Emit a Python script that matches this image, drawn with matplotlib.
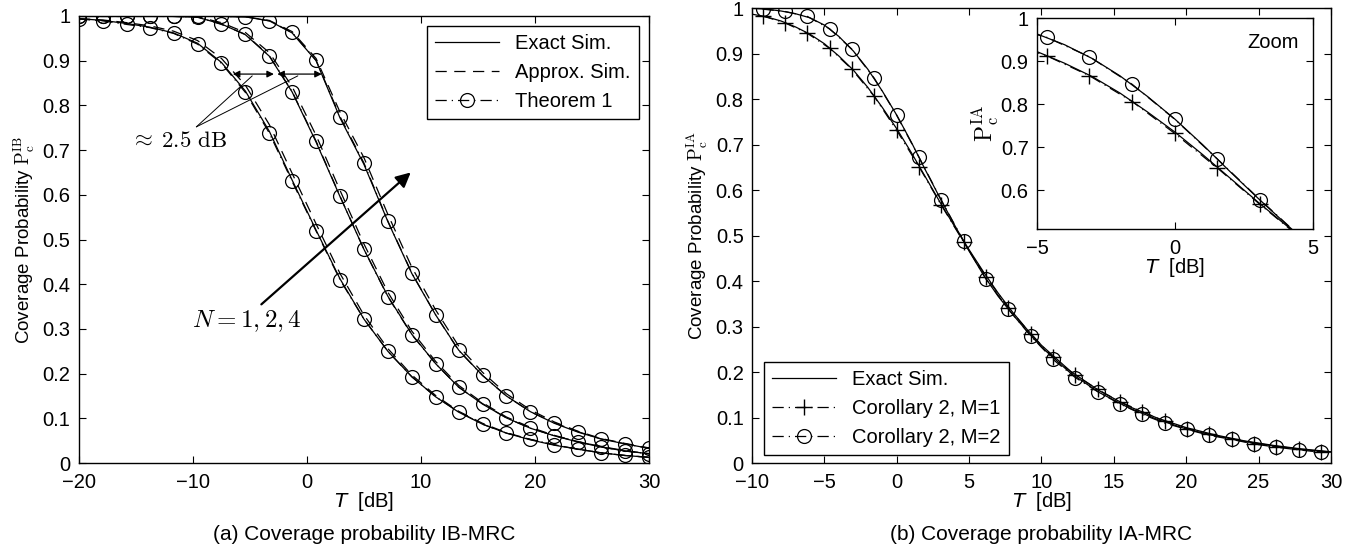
import numpy as np
import matplotlib
matplotlib.use("Agg")
import matplotlib.pyplot as plt
from matplotlib.ticker import FormatStrFormatter

plt.rcParams['font.family'] = ['Liberation Sans', 'DejaVu Sans']
plt.rcParams['mathtext.fontset'] = 'cm'
plt.rcParams['font.size'] = 14
plt.rcParams['axes.linewidth'] = 1.0

# ---- (a) IB-MRC data, N = 1, 2, 4 ----
T_ib = [-20.0, -17.9, -15.8, -13.8, -11.7, -9.6, -7.5, -5.4, -3.3, -1.3, 0.8, 2.9, 5.0,
        7.1, 9.2, 11.3, 13.3, 15.4, 17.5, 19.6, 21.7, 23.8, 25.8, 27.9, 30.0]

thm_n1 = [0.993, 0.989, 0.981, 0.974, 0.961, 0.937, 0.894, 0.829, 0.738, 0.630, 0.519, 0.410, 0.322,
          0.250, 0.193, 0.148, 0.115, 0.087, 0.067, 0.053, 0.041, 0.031, 0.023, 0.017, 0.013]
thm_n2 = [0.999, 0.999, 0.999, 0.999, 0.999, 0.998, 0.981, 0.959, 0.911, 0.831, 0.720, 0.597, 0.478,
          0.372, 0.287, 0.222, 0.170, 0.133, 0.101, 0.078, 0.061, 0.048, 0.036, 0.027, 0.021]
thm_n4 = [0.999, 0.999, 0.999, 0.999, 0.999, 0.999, 0.999, 0.998, 0.989, 0.963, 0.901, 0.775, 0.671,
          0.541, 0.425, 0.331, 0.252, 0.196, 0.150, 0.115, 0.090, 0.070, 0.054, 0.043, 0.033]

exact_n1 = [0.994, 0.990, 0.983, 0.975, 0.962, 0.939, 0.896, 0.832, 0.742, 0.633, 0.521, 0.412, 0.322,
            0.250, 0.193, 0.148, 0.114, 0.087, 0.067, 0.052, 0.040, 0.031, 0.023, 0.017, 0.013]
exact_n2 = [0.999, 0.999, 0.999, 0.999, 0.999, 0.997, 0.982, 0.958, 0.910, 0.830, 0.718, 0.596, 0.478,
            0.373, 0.288, 0.222, 0.170, 0.132, 0.101, 0.078, 0.061, 0.047, 0.036, 0.027, 0.021]
exact_n4 = [0.999, 0.999, 0.999, 0.999, 0.999, 0.999, 0.999, 0.998, 0.989, 0.962, 0.900, 0.772, 0.668,
            0.540, 0.424, 0.331, 0.253, 0.196, 0.150, 0.115, 0.089, 0.069, 0.054, 0.043, 0.033]

approx_n1 = [0.994, 0.991, 0.985, 0.978, 0.966, 0.945, 0.905, 0.845, 0.757, 0.648, 0.535, 0.424, 0.331,
             0.256, 0.197, 0.151, 0.116, 0.089, 0.068, 0.053, 0.041, 0.031, 0.023, 0.017, 0.013]
approx_n2 = [0.999, 0.999, 0.999, 0.999, 0.999, 0.998, 0.985, 0.963, 0.918, 0.842, 0.733, 0.610, 0.490,
             0.382, 0.295, 0.227, 0.174, 0.135, 0.103, 0.080, 0.062, 0.048, 0.037, 0.028, 0.021]
approx_n4 = [0.999, 0.999, 0.999, 0.999, 0.999, 0.999, 0.999, 0.998, 0.990, 0.965, 0.905, 0.785, 0.683,
             0.556, 0.438, 0.342, 0.262, 0.203, 0.155, 0.119, 0.092, 0.071, 0.055, 0.044, 0.034]

# ---- (b) IA-MRC data ----
T_ia = [-9.27, -7.73, -6.18, -4.64, -3.10, -1.55, -0.01, 1.53, 3.08, 4.62, 6.16, 7.70, 9.25,
        10.79, 12.34, 13.88, 15.42, 16.97, 18.51, 20.05, 21.60, 23.14, 24.68, 26.23, 27.77, 29.31]
cor_m1 = [0.983, 0.968, 0.945, 0.912, 0.866, 0.806, 0.732, 0.652, 0.567, 0.486, 0.410, 0.342, 0.284,
          0.233, 0.193, 0.162, 0.135, 0.113, 0.092, 0.076, 0.063, 0.053, 0.043, 0.036, 0.030, 0.025]
cor_m2 = [0.998, 0.993, 0.982, 0.955, 0.910, 0.846, 0.765, 0.673, 0.578, 0.488, 0.405, 0.339, 0.280,
          0.228, 0.188, 0.157, 0.130, 0.107, 0.088, 0.074, 0.061, 0.052, 0.042, 0.035, 0.029, 0.024]

T_sim = [-10, -9, -8, -7, -6, -5, -4, -3, -2, -1, 0, 1, 2, 3, 4, 5, 6, 7, 8, 9, 10,
         12, 14, 16, 18, 20, 22, 24, 26, 28, 30]
exact_a = [0.987, 0.981, 0.972, 0.959, 0.943, 0.922, 0.895, 0.864, 0.826, 0.782, 0.735, 0.683, 0.628,
           0.573, 0.520, 0.469, 0.420, 0.374, 0.332, 0.294, 0.259, 0.202, 0.159, 0.125, 0.099,
           0.078, 0.062, 0.049, 0.039, 0.031, 0.025]
exact_b = [1.000, 0.998, 0.994, 0.988, 0.979, 0.963, 0.938, 0.906, 0.866, 0.818, 0.765, 0.706, 0.643,
           0.582, 0.523, 0.466, 0.413, 0.367, 0.327, 0.290, 0.255, 0.198, 0.155, 0.122, 0.096,
           0.075, 0.060, 0.048, 0.038, 0.030, 0.024]

lw = 0.9
ms = 10
dashed = (9, 6)
dashdot = (9, 4, 1, 4)

fig = plt.figure(figsize=(13.54, 5.5), dpi=100)
ax1 = fig.add_axes([0.0583, 0.158, 0.421, 0.813])
ax2 = fig.add_axes([0.5554, 0.158, 0.4276, 0.827])
ax3 = fig.add_axes([0.7659, 0.5836, 0.2038, 0.3836])

# ---------- (a) ----------
for i, (ex, ap, th) in enumerate([(exact_n1, approx_n1, thm_n1),
                                   (exact_n2, approx_n2, thm_n2),
                                   (exact_n4, approx_n4, thm_n4)]):
    ax1.plot(T_ib, ex, '-', color='k', lw=lw, label='Exact Sim.' if i == 0 else None)
    ax1.plot(T_ib, ap, '--', dashes=dashed, color='k', lw=lw,
             label='Approx. Sim.' if i == 0 else None)
    ax1.plot(T_ib, th, '-.', dashes=dashdot, color='k', lw=lw, marker='o', ms=ms, mfc='none',
             mec='k', mew=0.9, label='Theorem 1' if i == 0 else None)

ax1.set_xlim(-20, 30)
ax1.set_ylim(0, 1)
ax1.set_xticks([-20, -10, 0, 10, 20, 30])
ax1.set_yticks(np.linspace(0, 1, 11))
ax1.yaxis.set_major_formatter(FormatStrFormatter('%g'))
ax1.set_xlabel(r'$T$  [dB]', math_fontfamily='dejavusans', labelpad=-1, fontsize=14.5)
ax1.set_ylabel(r'Coverage Probability $\mathrm{P}_\mathrm{c}^\mathrm{IB}$', labelpad=4, fontsize=13.5)
leg1 = ax1.legend(loc='upper right', bbox_to_anchor=(0.982, 0.978), borderaxespad=0,
                  fancybox=False, edgecolor='k', framealpha=1, handlelength=3.2, fontsize=14.5)
leg1.get_frame().set_linewidth(1.0)

# annotations
arrow_kw = dict(arrowstyle='<|-|>', lw=0.9, color='k', mutation_scale=10, shrinkA=0, shrinkB=0)
ax1.annotate('', xy=(-6.5, 0.87), xytext=(-2.9, 0.87), arrowprops=arrow_kw)
ax1.annotate('', xy=(-2.6, 0.87), xytext=(1.3, 0.87), arrowprops=arrow_kw)
ax1.annotate('', xy=(-4.8, 0.866), xytext=(-9.7, 0.752),
             arrowprops=dict(arrowstyle='-', lw=0.7, color='k', shrinkA=0, shrinkB=0))
ax1.annotate('', xy=(-0.8, 0.866), xytext=(-9.7, 0.752),
             arrowprops=dict(arrowstyle='-', lw=0.7, color='k', shrinkA=0, shrinkB=0))
ax1.text(-11.3, 0.722, r'$\approx\;2.5\ \mathrm{dB}$', ha='center', va='center', fontsize=16.5)
ax1.annotate('', xy=(9.1, 0.65), xytext=(-4.0, 0.355),
             arrowprops=dict(arrowstyle='-|>', lw=1.6, color='k', mutation_scale=22,
                             shrinkA=0, shrinkB=0))
ax1.text(-5.3, 0.318, r'$N = 1, 2, 4$', ha='center', va='center', fontsize=18)

# ---------- (b) ----------
for ax in (ax2, ax3):
    ax.plot(T_sim, exact_a, '-', color='k', lw=lw, label='Exact Sim.')
    ax.plot(T_sim, exact_b, '-', color='k', lw=lw)
    ax.plot(T_ia, cor_m1, '-.', dashes=dashdot, color='k', lw=lw, marker='+', ms=ms + 1,
            mew=1.0, label='Corollary 2, M=1')
    ax.plot(T_ia, cor_m2, '-.', dashes=dashdot, color='k', lw=lw, marker='o', ms=ms,
            mfc='none', mec='k', mew=0.9, label='Corollary 2, M=2')

ax2.set_xlim(-10, 30)
ax2.set_ylim(0, 1)
ax2.set_xticks(np.arange(-10, 31, 5))
ax2.set_yticks(np.linspace(0, 1, 11))
ax2.yaxis.set_major_formatter(FormatStrFormatter('%g'))
ax2.set_xlabel(r'$T$  [dB]', math_fontfamily='dejavusans', labelpad=-1, fontsize=14.5)
ax2.set_ylabel(r'Coverage Probability $\mathrm{P}_\mathrm{c}^\mathrm{IA}$', labelpad=4, fontsize=13.5)
leg2 = ax2.legend(loc='lower left', bbox_to_anchor=(0.02, 0.017), borderaxespad=0,
                  fancybox=False, edgecolor='k', framealpha=1, handlelength=3.2, fontsize=14.5)
leg2.get_frame().set_linewidth(1.0)

ax3.set_xlim(-5, 5)
ax3.set_ylim(0.51, 1.0)
ax3.set_xticks([-5, 0, 5])
ax3.set_yticks([0.6, 0.7, 0.8, 0.9, 1.0])
ax3.yaxis.set_major_formatter(FormatStrFormatter('%g'))
ax3.set_xlabel(r'$T$  [dB]', math_fontfamily='dejavusans', labelpad=-1, fontsize=14.5)
ax3.set_ylabel(r'$\mathrm{P}_\mathrm{c}^\mathrm{IA}$', fontsize=17, labelpad=0)
ax3.text(0.95, 0.93, 'Zoom', transform=ax3.transAxes, ha='right', va='top', fontsize=14.5)

for ax in (ax1, ax2, ax3):
    ax.tick_params(direction='in', top=True, right=True, length=5, width=0.8, labelsize=14.5)
    ax.tick_params(axis='x', pad=7)
    ax.tick_params(axis='y', pad=6)

fig.text(0.269, 0.029, '(a) Coverage probability IB-MRC', ha='center', va='center', fontsize=15)
fig.text(0.769, 0.029, '(b) Coverage probability IA-MRC', ha='center', va='center', fontsize=15)

fig.savefig('out.png', dpi=100)
